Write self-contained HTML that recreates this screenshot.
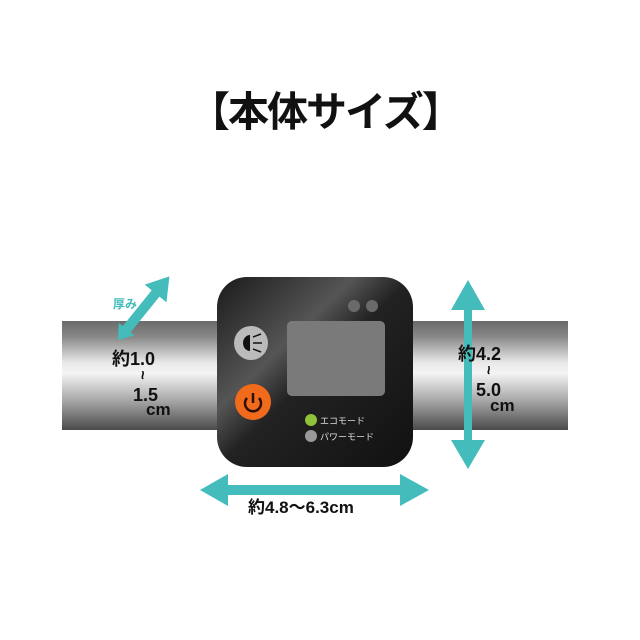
<!DOCTYPE html>
<html><head><meta charset="utf-8"><style>
body{margin:0;width:640px;height:640px;background:#fff;overflow:hidden;position:relative;font-family:"Liberation Sans","Noto Sans CJK JP",sans-serif}
.t{position:absolute;font-weight:bold;color:#111;line-height:1}
.w{position:absolute;font-weight:bold;color:#111;line-height:1;transform:rotate(90deg);font-size:16px}
</style></head><body>
<div class="t" style="left:189px;top:92px;font-size:41px;letter-spacing:-2px">【本体サイズ】</div>
<svg width="640" height="640" style="position:absolute;left:0;top:0">
<defs>
<linearGradient id="tube" x1="0" y1="0" x2="0" y2="1">
<stop offset="0" stop-color="#6a6a6a"/><stop offset="0.15" stop-color="#8a8a8a"/>
<stop offset="0.38" stop-color="#e8e8e8"/><stop offset="0.48" stop-color="#f4f4f4"/>
<stop offset="0.75" stop-color="#a0a0a0"/><stop offset="1" stop-color="#4a4a4a"/>
</linearGradient>
<linearGradient id="dev" x1="0" y1="0" x2="1" y2="1">
<stop offset="0" stop-color="#1a1a1a"/><stop offset="0.35" stop-color="#555"/>
<stop offset="0.5" stop-color="#222"/><stop offset="1" stop-color="#111"/>
</linearGradient>
</defs>
<rect x="62" y="321" width="506" height="109" fill="url(#tube)"/>
<rect x="217" y="277" width="196" height="190" rx="30" fill="url(#dev)"/>
<circle cx="354" cy="306" r="6" fill="#6a6a6a"/><circle cx="372" cy="306" r="6" fill="#6a6a6a"/>
<rect x="287" y="321" width="98" height="75" rx="5" fill="#7a7a7a"/>
<circle cx="251" cy="343" r="17" fill="#bbb"/>
<path d="M243 343 a7 8 0 0 1 7 -8 v16 a7 8 0 0 1 -7 -8z" fill="#111"/>
<path d="M253 337 l8 -3 M253 343 h9 M253 349 l8 3" stroke="#111" stroke-width="1.5"/>
<circle cx="253" cy="402" r="18" fill="#f26a1b"/>
<path d="M247 398 a8 8 0 1 0 12 0" stroke="#2a1208" stroke-width="2.5" fill="none"/>
<line x1="253" y1="393" x2="253" y2="403" stroke="#2a1208" stroke-width="2.5"/>
<circle cx="311" cy="420" r="6" fill="#8fc23a"/>
<circle cx="311" cy="436" r="6" fill="#999"/>
<text x="320" y="424" font-size="9" fill="#ddd" font-family="Noto Sans CJK JP,sans-serif">エコモード</text>
<text x="320" y="440" font-size="9" fill="#ddd" font-family="Noto Sans CJK JP,sans-serif">パワーモード</text>
<g fill="#44bcbc">
<polygon points="468,280 485,310 472,310 472,440 485,440 468,469 451,440 464,440 464,310 451,310"/>
<polygon points="200,490 228,474 228,485 400,485 400,474 429,490 400,506 400,495 228,495 228,506"/>
<polygon transform="translate(143,309) rotate(-51)" points="42,0 20,-14 20,-5 -26,-5 -26,-10 -40,0 -26,10 -26,5 20,5 20,14"/>
</g>
</svg>
<div class="t" style="left:112px;top:350px;font-size:18px">約1.0</div>
<div class="w" style="left:137px;top:367px">~</div>
<div class="t" style="left:133px;top:386px;font-size:18px">1.5</div>
<div class="t" style="left:146px;top:401px;font-size:17px">cm</div>
<div class="t" style="left:458px;top:345px;font-size:18px">約4.2</div>
<div class="w" style="left:483px;top:362px">~</div>
<div class="t" style="left:476px;top:381px;font-size:18px">5.0</div>
<div class="t" style="left:490px;top:397px;font-size:17px">cm</div>
<div class="t" style="left:248px;top:499px;font-size:17px">約4.8～6.3cm</div>
<div class="t" style="left:113px;top:298px;font-size:12px;color:#44bcbc">厚み</div>
</body></html>
